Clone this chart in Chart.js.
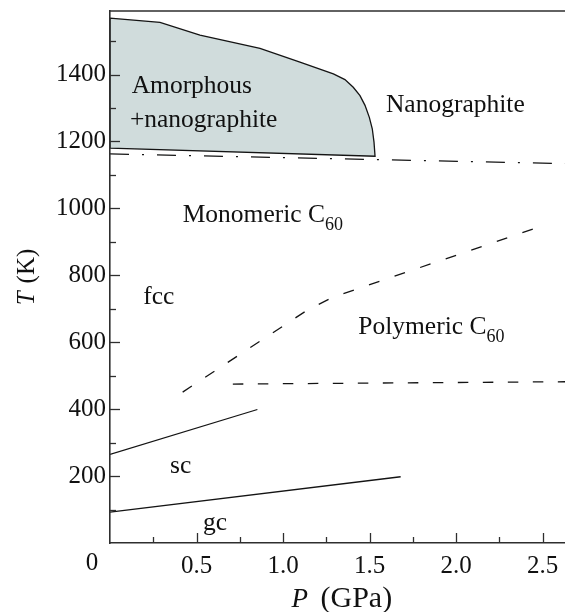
<!DOCTYPE html>
<html>
<head>
<meta charset="utf-8">
<script src="https://cdn.jsdelivr.net/npm/chart.js@4.4.1/dist/chart.umd.min.js"></script>
<style>
  html, body { margin: 0; padding: 0; background: #fff; }
  #wrap { width: 565px; height: 612px; position: relative; }
</style>
</head>
<body>
<div id="wrap"><canvas id="c"></canvas></div>
<script>
// Phase boundaries of C60 under pressure: P in GPa, T in K
const amorphousP = [0, 0.289, 0.52, 0.867, 1.098, 1.291, 1.358, 1.406, 1.445, 1.474, 1.499, 1.516, 1.526, 1.532, 0, 0];
const amorphousT = [1569, 1556, 1518, 1478, 1437, 1402, 1385, 1362, 1337, 1308, 1272, 1238, 1198, 1156, 1180, 1569];

const collapseP = [0, 2.63];
const collapseT = [1163, 1134];

const polymerUpperP = [0.42, 1.14, 1.29, 2.49];
const polymerUpperT = [451, 696, 735, 946];

const polymerLowerP = [0.71, 2.63];
const polymerLowerT = [475, 482];

const fccScP = [0, 0.852];
const fccScT = [265, 399];

const scGlassP = [0, 1.68];
const scGlassT = [92, 198];

// Axis ticks
const xTickLabels = ['0', '0.5', '1.0', '1.5', '2.0', '2.5'];
const xMinorTicks = [0.25, 0.75, 1.25, 1.75, 2.25];
const yTickLabels = ['200', '400', '600', '800', '1000', '1200', '1400'];
const yMinorTicks = [100, 300, 500, 700, 900, 1100, 1300, 1500];

// Region names, anchored at (P, T) with left alignment on the text baseline
const regionNames = [
  { text: 'Amorphous', sub: '', p: 0.125, t: 1345 },
  { text: '+nanographite', sub: '', p: 0.115, t: 1243 },
  { text: 'Nanographite', sub: '', p: 1.595, t: 1287 },
  { text: 'Monomeric C', sub: '60', p: 0.42, t: 959 },
  { text: 'fcc', sub: '', p: 0.192, t: 715 },
  { text: 'Polymeric C', sub: '60', p: 1.435, t: 626 },
  { text: 'sc', sub: '', p: 0.347, t: 209 },
  { text: 'gc', sub: '', p: 0.538, t: 39 }
];

const toPoints = (xs, ys) => xs.map((x, i) => ({ x: x, y: ys[i] }));

const SERIF = '"Liberation Serif", "Times New Roman", serif';
const INK = '#141414';
const AXIS = '#2e2e2e';
const LABEL_SIZE = 25.5;
const X_LABEL_PAD = 8;

function lineSet(label, xs, ys, dash) {
  return {
    label: label,
    data: toPoints(xs, ys),
    showLine: true,
    borderColor: INK,
    borderWidth: 1.3,
    borderDash: dash || [],
    pointRadius: 0,
    fill: false,
    tension: 0
  };
}

function noEdgePadding(s) {
  s.paddingTop = 0;
  s.paddingBottom = 0;
  s.paddingLeft = 0;
  s.paddingRight = 0;
}

// Inward tick marks, top frame line, corner zero, axis titles and region names
const decorations = {
  id: 'decorations',
  afterDraw(chart) {
    const ctx = chart.ctx;
    const area = chart.chartArea;
    const xs = chart.scales.x;
    const ys = chart.scales.y;
    ctx.save();
    ctx.strokeStyle = AXIS;
    ctx.lineWidth = 1.3;

    const xTick = (v, len) => {
      const px = Math.round(xs.getPixelForValue(v)) + 0.5;
      ctx.beginPath();
      ctx.moveTo(px, area.bottom);
      ctx.lineTo(px, area.bottom - len);
      ctx.stroke();
    };
    const yTick = (v, len) => {
      const py = Math.round(ys.getPixelForValue(v)) + 0.5;
      ctx.beginPath();
      ctx.moveTo(area.left, py);
      ctx.lineTo(area.left + len, py);
      ctx.stroke();
    };
    xTickLabels.slice(1).forEach(l => xTick(parseFloat(l), 10));
    xMinorTicks.forEach(v => xTick(v, 6));
    yTickLabels.forEach(l => yTick(parseFloat(l), 10));
    yMinorTicks.forEach(v => yTick(v, 6));

    // top frame
    ctx.lineWidth = 1.6;
    ctx.beginPath();
    ctx.moveTo(area.left, area.top);
    ctx.lineTo(area.right, area.top);
    ctx.stroke();

    ctx.fillStyle = '#111';
    ctx.font = '25px ' + SERIF;

    // shared origin label
    ctx.textAlign = 'center';
    ctx.textBaseline = 'top';
    ctx.fillText(xTickLabels[0], area.left - 18, xs.top + X_LABEL_PAD);

    // x title: italic P followed by the unit
    ctx.textAlign = 'left';
    ctx.textBaseline = 'alphabetic';
    const xBase = 607;
    const xMid = (area.left + area.right) / 2;
    ctx.font = 'italic 27px ' + SERIF;
    ctx.fillText('P', xMid - 46, xBase);
    ctx.font = '30px ' + SERIF;
    ctx.fillText('(GPa)', xMid - 17, xBase);

    // y title: italic T followed by the unit, rotated
    ctx.save();
    ctx.translate(34, (area.top + area.bottom) / 2);
    ctx.rotate(-Math.PI / 2);
    ctx.font = 'italic 25px ' + SERIF;
    const wT = ctx.measureText('T').width;
    ctx.font = '25px ' + SERIF;
    const wK = ctx.measureText('(K)').width;
    const gapT = 8;
    const y0 = -(wT + gapT + wK) / 2;
    ctx.font = 'italic 25px ' + SERIF;
    ctx.fillText('T', y0, 0);
    ctx.font = '25px ' + SERIF;
    ctx.fillText('(K)', y0 + wT + gapT, 0);
    ctx.restore();

    // region names
    regionNames.forEach(r => {
      const px = xs.getPixelForValue(r.p);
      const py = ys.getPixelForValue(r.t);
      ctx.font = LABEL_SIZE + 'px ' + SERIF;
      ctx.fillText(r.text, px, py);
      if (r.sub) {
        const w = ctx.measureText(r.text).width;
        ctx.font = '18px ' + SERIF;
        ctx.fillText(r.sub, px + w, py + 8);
      }
    });
    ctx.restore();
  }
};

new Chart(document.getElementById('c'), {
  type: 'scatter',
  data: {
    datasets: [
      {
        label: 'Amorphous + nanographite',
        data: toPoints(amorphousP, amorphousT),
        showLine: true,
        borderColor: INK,
        borderWidth: 1.3,
        backgroundColor: 'rgb(208, 220, 220)',
        fill: 'shape',
        pointRadius: 0,
        tension: 0
      },
      lineSet('Collapse to nanographite', collapseP, collapseT, [19, 13, 2, 13]),
      lineSet('Polymerization (upper)', polymerUpperP, polymerUpperT, [11, 16]),
      lineSet('Polymerization (lower)', polymerLowerP, polymerLowerT, [10.5, 14.5]),
      lineSet('fcc - sc', fccScP, fccScT),
      lineSet('sc - glassy', scGlassP, scGlassT)
    ]
  },
  options: {
    responsive: true,
    maintainAspectRatio: false,
    animation: false,
    layout: { padding: { top: 11, right: 0, bottom: 0, left: 0 } },
    plugins: {
      legend: { display: false },
      tooltip: { enabled: false },
      title: { display: false }
    },
    scales: {
      x: {
        type: 'linear',
        position: 'bottom',
        min: 0,
        max: 2.63,
        grid: { display: false, drawTicks: false },
        border: { display: true, color: AXIS, width: 1.6, z: 1 },
        afterBuildTicks: s => {
          s.ticks = xTickLabels.slice(1).map(l => ({ value: parseFloat(l) }));
        },
        ticks: {
          autoSkip: false,
          maxRotation: 0,
          padding: X_LABEL_PAD,
          color: '#111',
          font: { family: SERIF, size: 25 },
          callback: v => v.toFixed(1)
        },
        afterFit: s => { s.height = 69; noEdgePadding(s); }
      },
      y: {
        type: 'linear',
        position: 'left',
        min: 0,
        max: 1590,
        grid: { display: false, drawTicks: false },
        border: { display: true, color: AXIS, width: 1.6, z: 1 },
        afterBuildTicks: s => {
          s.ticks = yTickLabels.map(l => ({ value: parseFloat(l) }));
        },
        ticks: {
          autoSkip: false,
          padding: 4,
          color: '#111',
          font: { family: SERIF, size: 25 },
          callback: v => String(v)
        },
        afterFit: s => { s.width = 110; noEdgePadding(s); }
      }
    }
  },
  plugins: [decorations]
});
</script>
</body>
</html>
